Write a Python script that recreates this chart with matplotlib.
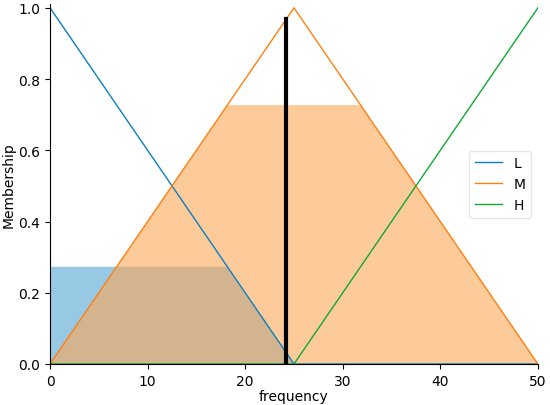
import numpy as np
import matplotlib
matplotlib.use('Agg')
import matplotlib.pyplot as plt

# membership functions as breakpoints (x, membership)
labels = ['L', 'M', 'H']
L_pts = ([0, 25, 50], [1.0, 0.0, 0.0])
M_pts = ([0, 25, 50], [0.0, 1.0, 0.0])
H_pts = ([0, 25, 50], [0.0, 0.0, 1.0])
activation = [0.273, 0.727, 0.0]
crisp_value = 24.2
colors = ['#0a80c2', '#ff8010', '#10a832']
fill_colors = ['#52a5d4', '#fca757', '#40c060']

universe = np.linspace(0, 50, 1001)

fig, ax = plt.subplots(figsize=(5.5, 4.06), dpi=100)
fig.subplots_adjust(left=0.091, right=0.978, bottom=0.101, top=0.987)

mfs = [np.interp(universe, *p) for p in (L_pts, M_pts, H_pts)]

# clipped (activated) regions
for mf, act, c in zip(mfs, activation, fill_colors):
    if act > 0:
        ax.fill_between(universe, 0, np.fmin(mf, act), facecolor=c, alpha=0.6, linewidth=0)

for mf, lab, c in zip(mfs, labels, colors):
    ax.plot(universe, mf, color=c, linewidth=1.0, label=lab)

# defuzzified output
top = np.interp(crisp_value, *M_pts)
ax.plot([crisp_value, crisp_value], [0, top], color='k', linewidth=3)

ax.set_xlim(0, 50)
ax.set_ylim(0, 1.01)
ax.set_xlabel('frequency', labelpad=1)
ax.set_ylabel('Membership', labelpad=2)
ax.spines['top'].set_visible(False)
ax.spines['right'].set_visible(False)
ax.legend(loc='center right', framealpha=0.5)

plt.savefig('out.png')
